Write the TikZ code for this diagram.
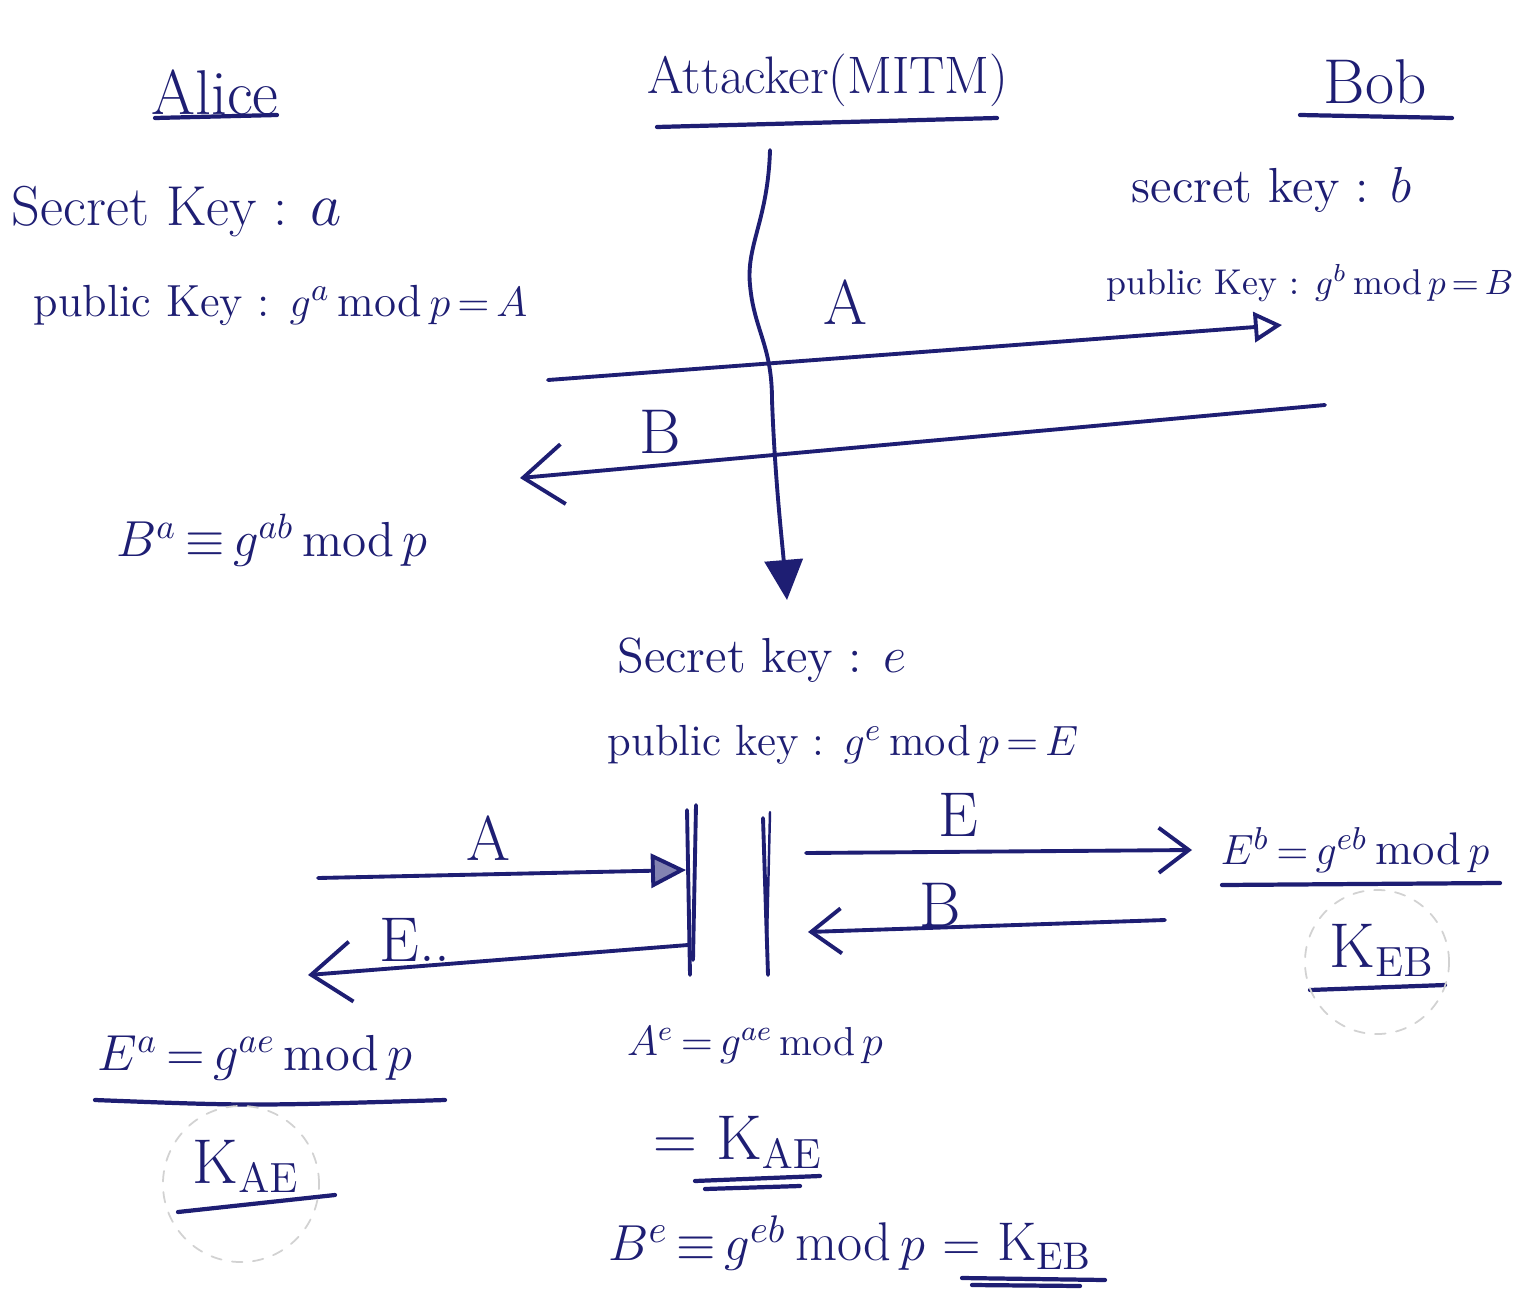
\documentclass[tikz,border=0pt]{standalone}
\usetikzlibrary{arrows.meta}
\definecolor{ink}{RGB}{30,30,115}
\newcommand{\fs}[1]{\fontsize{#1}{#1}\selectfont}
\begin{document}
\thickmuskip=3mu plus 1mu
\medmuskip=2mu plus 1mu
\begin{tikzpicture}[x=0.01cm,y=-0.01cm, line width=1.1pt, line cap=round, line join=round,
  txt/.style={text=ink, inner sep=0pt, font=\fs{15}},
  hdr/.style={text=ink, inner sep=0pt, font=\fs{18}},
  ul/.style={draw=ink, line width=1.2pt},
  msg/.style={draw=ink, line width=1.1pt},
  chev/.style={-{Straight Barb[length=4mm,width=6mm,line width=1.1pt]}},
  chevs/.style={-{Straight Barb[length=3mm,width=4.5mm,line width=1.1pt]}},
  otri/.style={-{Triangle[open,length=2.8mm,width=3mm,line width=1.1pt]}},
  ftri/.style={-{Triangle[length=3.5mm,width=3.4mm,fill=ink!55,line width=1.1pt]}},
  dtri/.style={-{Triangle[length=4mm,width=3.8mm,fill=ink,line width=1.1pt]}},
  faint/.style={draw=gray!35, dashed, line width=0.5pt}]
\fill[white] (0,0) rectangle (1527,1315);
\useasboundingbox (0,0) rectangle (1527,1315);

% headers
\node[hdr] (alice) at (215,92) {Alice};
\coordinate (aliceL) at (155,118); \coordinate (aliceR) at (277,115);
\draw[ul] (aliceL) -- (aliceR);
\node[hdr, font=\fs{15}] (att) at (828,80) {Attacker(MITM)};
\coordinate (attL) at (657,127); \coordinate (attR) at (997,118);
\draw[ul] (attL) -- (attR);
\node[hdr] (bob) at (1375,82) {Bob};
\coordinate (bobL) at (1300,115); \coordinate (bobR) at (1452,118);
\draw[ul] (bobL) -- (bobR);

% Alice keys
\node[txt, anchor=west, font=\fs{16}] (ask) at (10,212) {Secret Key : $a$};
\node[txt, anchor=west, font=\fs{12.8}] (apk) at (32,305) {public Key : $g^{a}$\,mod\,$p = A$};

% Bob keys
\node[txt, anchor=west, font=\fs{14}] (bsk) at (1130,190) {secret key : $b$};
\node[txt, anchor=west, font=\fs{10.2}] (bpk) at (1105,283) {public Key : $g^{b}$\,mod\,$p = B$};

% top messages
\coordinate (a1s) at (548,380); \coordinate (a1e) at (1282,325);
\draw[msg, otri] (a1s) -- (a1e);
\node[txt, font=\fs{18}] (lA1) at (845,302) {A};
\coordinate (b1s) at (1325,405); \coordinate (b1e) at (520,478);
\draw[msg, chev] (b1s) -- (b1e);
\node[txt, font=\fs{18}] (lB1) at (660,432) {B};

% Alice computes
\node[txt, font=\fs{14}] (ba) at (272,540) {$B^{a} \equiv g^{ab}$\,mod\,$p$};

% wavy time line
\coordinate (w0) at (770,150); \coordinate (w1) at (750,285); \coordinate (w2) at (772,400);
\coordinate (w3) at (787,600);
\draw[msg, dtri] (w0) .. controls (768,220) and (746,245) .. (w1)
  .. controls (754,330) and (772,345) .. (w2) .. controls (775,480) and (782,540) .. (w3);

% Attacker keys
\node[txt, font=\fs{14}] (esk) at (762,660) {Secret key : $e$};
\node[txt, font=\fs{12.4}] (epk) at (843,745) {public key : $g^{e}$\,mod\,$p = E$};

% bars
\coordinate (l1t) at (687,810); \coordinate (l1b) at (690,975);
\coordinate (l2t) at (696,805); \coordinate (l2b) at (693,960);
\coordinate (r1t) at (763,818); \coordinate (r1b) at (768,975);
\coordinate (r2t) at (770,812); \coordinate (r2b) at (767,940);
\draw[msg] (l1t) -- (l1b);
\draw[msg] (l2t) -- (l2b);
\draw[msg] (r1t) -- (r1b);
\draw[msg, line width=0.7pt] (r2t) -- (r2b);

% bottom left messages
\coordinate (a2s) at (318,878); \coordinate (a2e) at (686,870);
\draw[msg, ftri] (a2s) -- (a2e);
\node[txt, font=\fs{18}] (lA2) at (488,838) {A};
\coordinate (e2s) at (688,945); \coordinate (e2e) at (308,975);
\draw[msg, chev] (e2s) -- (e2e);
\node[txt, font=\fs{18}] (lE2) at (415,940) {E..};

% bottom right messages
\coordinate (e3s) at (806,853); \coordinate (e3e) at (1192,850);
\draw[msg, chevs] (e3s) -- (e3e);
\node[txt, font=\fs{18}] (lE3) at (958,815) {E};
\coordinate (b3s) at (1165,920); \coordinate (b3e) at (808,932);
\draw[msg, chevs] (b3s) -- (b3e);
\node[txt, font=\fs{18}] (lB3) at (940,905) {B};

% Bob computes
\node[txt, font=\fs{13}] (eb) at (1355,850) {$E^{b} = g^{eb}$\,mod\,$p$};
\coordinate (ebL) at (1222,885); \coordinate (ebR) at (1500,883);
\draw[ul] (ebL) -- (ebR);
\node[txt, font=\fs{18}] (keb) at (1382,950) {K$_{\mathrm{EB}}$};
\coordinate (kebL) at (1310,990); \coordinate (kebR) at (1445,985);
\draw[ul] (kebL) -- (kebR);
\draw[faint] (keb) ++(-5,12) circle[radius=0.72cm];

% Alice computes with E
\node[txt, font=\fs{14.4}] (ea) at (255,1058) {$E^{a} = g^{ae}$\,mod\,$p$};
\coordinate (eaL) at (95,1100); \coordinate (eaR) at (445,1100);
\draw[ul] (eaL) .. controls (250,1106) .. (eaR);
\node[txt, font=\fs{18}] (kae) at (246,1166) {K$_{\mathrm{AE}}$};
\coordinate (kaeL) at (178,1212); \coordinate (kaeR) at (335,1195);
\draw[ul] (kaeL) -- (kaeR);
\draw[faint] (kae) ++(-5,18) circle[radius=0.78cm];

% Attacker computes
\node[txt, font=\fs{11.5}] (ae) at (755,1045) {$A^{e} = g^{ae}$\,mod\,$p$};
\node[txt, font=\fs{18}] (kae2) at (738,1142) {$=$ K$_{\mathrm{AE}}$};
\coordinate (k2aL) at (695,1181); \coordinate (k2aR) at (820,1176);
\coordinate (k2bL) at (705,1189); \coordinate (k2bR) at (800,1186);
\draw[ul] (k2aL) -- (k2aR);
\draw[ul] (k2bL) -- (k2bR);
\node[txt, font=\fs{15.5}] (be) at (850,1243) {$B^{e} \equiv g^{eb}$\,mod\,$p$ $=$ K$_{\mathrm{EB}}$};
\coordinate (k3aL) at (962,1278); \coordinate (k3aR) at (1105,1280);
\coordinate (k3bL) at (972,1285); \coordinate (k3bR) at (1080,1286);
\draw[ul] (k3aL) -- (k3aR);
\draw[ul] (k3bL) -- (k3bR);
\end{tikzpicture}
\end{document}
